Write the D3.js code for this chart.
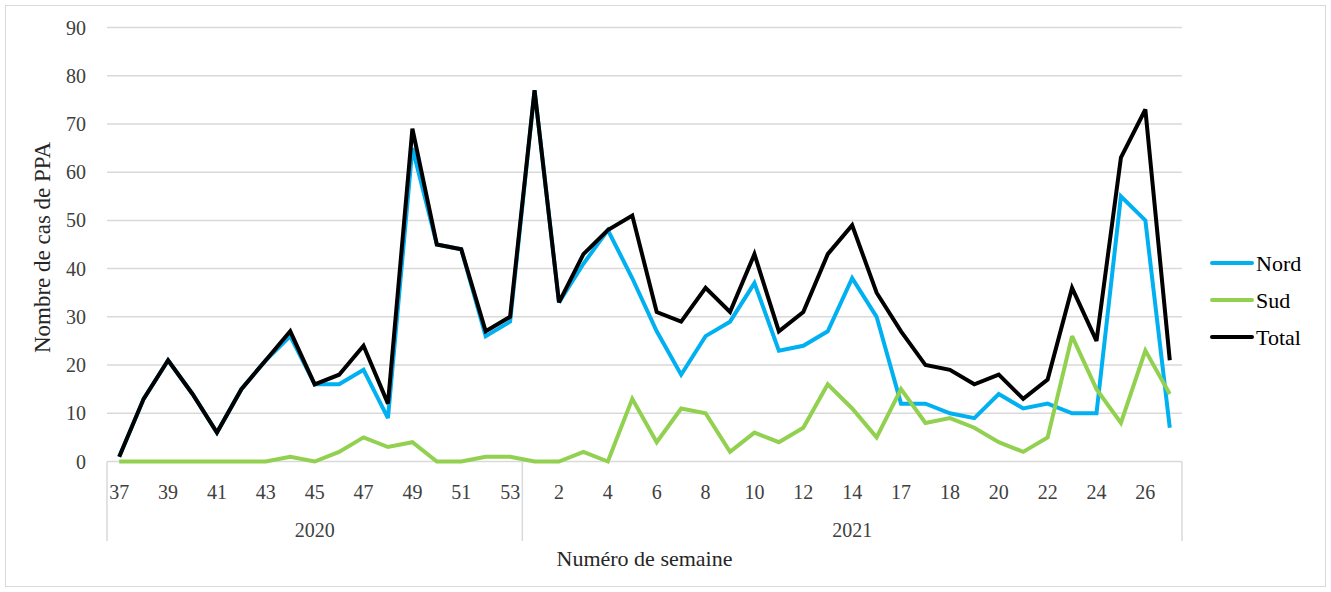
<!DOCTYPE html>
<html>
<head>
<meta charset="utf-8">
<script src="https://cdn.jsdelivr.net/npm/d3@7"></script>
<style>
body {margin:0; background:#fff}
text {font-family: "Liberation Serif", serif}
</style>
</head>
<body>
<script>
// semaines
const years = ['2020', '2021']
const weeks2020 = ['37','38','39','40','41','42','43','44','45','46','47','48','49','50','51','52','53']
const weeks2021 = ['1','2','3','4','5','6','7','8','9','10','11','12','13','14','15','17','17','18','19','20','21','22','23','24','25','26','27']

// cas de PPA
const nord = [1,13,21,14,6,15,21,26,16,16,19,9,65,45,44,26,29,
  77,33,41,48,38,27,18,26,29,37,23,24,27,38,30,12,12,10,9,14,11,12,10,10,55,50,7]
const sud = [0,0,0,0,0,0,0,1,0,2,5,3,4,0,0,1,1,
  0,0,2,0,13,4,11,10,2,6,4,7,16,11,5,15,8,9,7,4,2,5,26,15,8,23,14]
const total = [1,13,21,14,6,15,21,27,16,18,24,12,69,45,44,27,30,
  77,33,43,48,51,31,29,36,31,43,27,31,43,49,35,27,20,19,16,18,13,17,36,25,63,73,21]

const yTicks = [0,10,20,30,40,50,60,70,80,90]

const series = [
  {name:'Nord', values: nord, color:'#00b0f0'},
  {name:'Sud', values: sud, color:'#92d050'},
  {name:'Total', values: total, color:'#000000'}
]

const cats = []
weeks2020.forEach(w => cats.push({year: years[0], week: w}))
weeks2021.forEach(w => cats.push({year: years[1], week: w}))

const W = 1331, H = 592
const plot = {left:107, right:1182, top:27.5, bottom:461.5}

const svg = d3.select('body').append('svg')
  .attr('width', W)
  .attr('height', H)

svg.append('rect')
  .attr('x', 5.5).attr('y', 5.5)
  .attr('width', W - 11).attr('height', H - 11)
  .attr('fill', '#fff')
  .attr('stroke', '#d9d9d9')

const x = d3.scaleBand()
  .domain(d3.range(cats.length))
  .range([plot.left, plot.right])
const cx = i => x(i) + x.bandwidth()/2

const y = d3.scaleLinear()
  .domain([0, 90])
  .range([plot.bottom, plot.top])

// grille
svg.selectAll('.grid')
  .data(yTicks)
  .enter()
  .append('line')
  .attr('class', 'grid')
  .attr('x1', plot.left)
  .attr('x2', plot.right)
  .attr('y1', d => y(d))
  .attr('y2', d => y(d))
  .attr('stroke', '#d9d9d9')
  .attr('stroke-width', 1.5)

svg.selectAll('.ylab')
  .data(yTicks)
  .enter()
  .append('text')
  .attr('class', 'ylab')
  .attr('x', 86)
  .attr('y', d => y(d))
  .attr('dy', '0.35em')
  .attr('text-anchor', 'end')
  .attr('font-size', 20)
  .attr('fill', '#404040')
  .text(d => d)

// axe des categories
const yearSpans = years.map(yr => {
  const idx = cats.map((c,i) => c.year === yr ? i : -1).filter(i => i >= 0)
  return {year: yr, x0: x(idx[0]), x1: x(idx[idx.length-1]) + x.bandwidth()}
})
const seps = [yearSpans[0].x0].concat(yearSpans.map(s => s.x1))
svg.selectAll('.sep')
  .data(seps)
  .enter()
  .append('line')
  .attr('class', 'sep')
  .attr('x1', d => d).attr('x2', d => d)
  .attr('y1', plot.bottom).attr('y2', 541)
  .attr('stroke', '#d9d9d9')
  .attr('stroke-width', 1.5)

svg.selectAll('.xlab')
  .data(cats.filter((c,i) => i % 2 === 0))
  .enter()
  .append('text')
  .attr('class', 'xlab')
  .attr('x', (d) => cx(cats.indexOf(d)))
  .attr('y', 492)
  .attr('dy', '0.35em')
  .attr('text-anchor', 'middle')
  .attr('font-size', 20)
  .attr('fill', '#404040')
  .text(d => d.week)

svg.selectAll('.yearlab')
  .data(yearSpans)
  .enter()
  .append('text')
  .attr('class', 'yearlab')
  .attr('x', d => (d.x0 + d.x1)/2)
  .attr('y', 530)
  .attr('dy', '0.35em')
  .attr('text-anchor', 'middle')
  .attr('font-size', 20)
  .attr('fill', '#404040')
  .text(d => d.year)

// courbes
const line = d3.line()
  .x((d,i) => cx(i))
  .y(d => y(d))

svg.selectAll('.serie')
  .data(series)
  .enter()
  .append('path')
  .attr('class', 'serie')
  .attr('d', d => line(d.values))
  .attr('fill', 'none')
  .attr('stroke', d => d.color)
  .attr('stroke-width', 4)
  .attr('stroke-linejoin', 'miter')
  .attr('stroke-miterlimit', 3)

// titres
svg.append('text')
  .attr('x', (plot.left + plot.right)/2)
  .attr('y', 558)
  .attr('dy', '0.35em')
  .attr('text-anchor', 'middle')
  .attr('font-size', 22)
  .attr('fill', '#262626')
  .text('Numéro de semaine')

svg.append('text')
  .attr('transform', `translate(42, ${(plot.top + plot.bottom)/2 + 3}) rotate(-90)`)
  .attr('dy', '0.35em')
  .attr('text-anchor', 'middle')
  .attr('font-size', 23)
  .attr('fill', '#262626')
  .text('Nombre de cas de PPA')

// legende
const leg = svg.selectAll('.leg')
  .data(series)
  .enter()
  .append('g')
  .attr('class', 'leg')
  .attr('transform', (d,i) => `translate(1212, ${263 + i*37})`)
leg.append('line')
  .attr('x1', 0).attr('x2', 40)
  .attr('stroke', d => d.color)
  .attr('stroke-width', 4)
  .attr('stroke-linecap', 'round')
leg.append('text')
  .attr('x', 44)
  .attr('dy', '0.35em')
  .attr('font-size', 22)
  .attr('fill', '#000')
  .text(d => d.name)
</script>
</body>
</html>
